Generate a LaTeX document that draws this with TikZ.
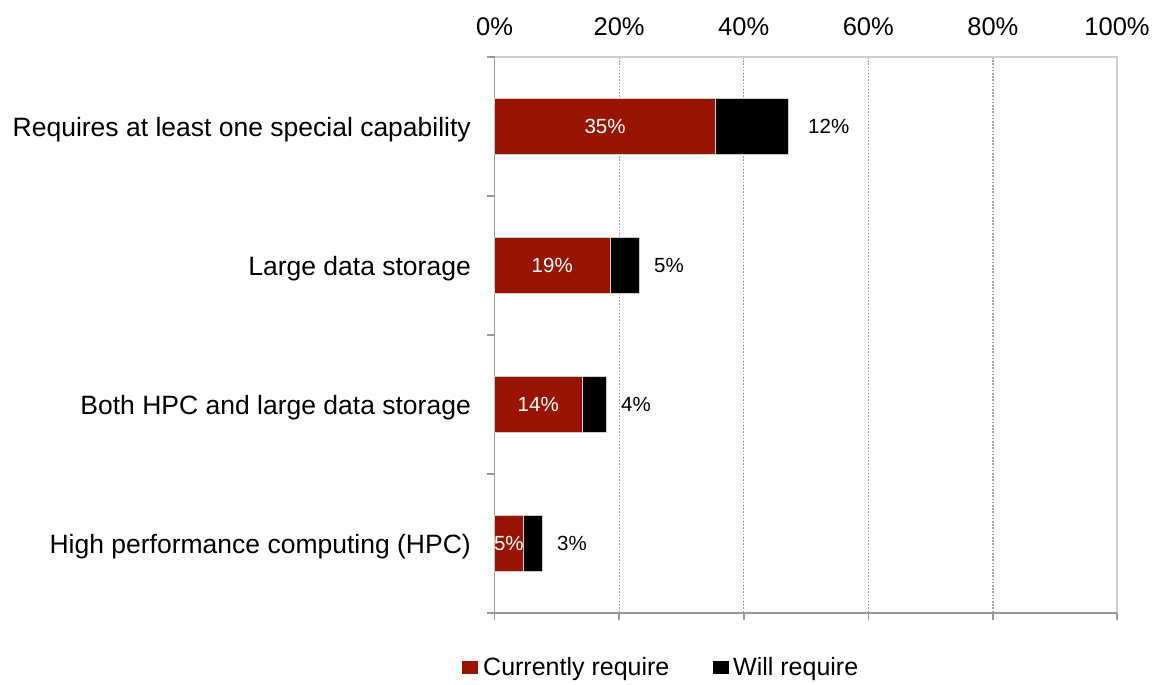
\documentclass[tikz,border=0pt]{standalone}
\usepackage{fontspec}
\setmainfont{Liberation Sans}
\definecolor{barred}{RGB}{150,20,0}
\definecolor{axisgray}{RGB}{152,152,152}
\definecolor{framegray}{RGB}{205,205,205}
\definecolor{gridgray}{RGB}{160,160,160}
\begin{document}
\begin{tikzpicture}[x=1pt,y=-1pt,
  catlabel/.style={anchor=base east, inner sep=0pt, font=\fontsize{26.5}{30}\selectfont},
  ticklabel/.style={anchor=base, inner sep=0pt, font=\fontsize{25.5}{30}\selectfont},
  inlabel/.style={inner sep=0pt, text=white, font=\fontsize{20.5}{24}\selectfont},
  outlabel/.style={anchor=west, inner sep=0pt, font=\fontsize{20.5}{24}\selectfont},
  legendlabel/.style={anchor=base west, inner sep=0pt, font=\fontsize{25}{30}\selectfont},
  curbar/.style={fill=barred, draw=framegray, line width=0.5pt},
  willbar/.style={fill=black, draw=framegray, line width=0.5pt},
  gridline/.style={gridgray, line width=1.2pt, dash pattern=on 1.6pt off 1.6pt},
  axisline/.style={axisgray, line width=1.6pt},
  frameline/.style={framegray, line width=1.6pt}]
\useasboundingbox (0,0) rectangle (1154,685);

% plot corners
\coordinate (tl) at (494.5,57);
\coordinate (tr) at (1117,57);
\coordinate (bl) at (494.5,613);
\coordinate (br) at (1117,613);
\coordinate (axl) at (487,613);

% dotted gridlines and percentage labels
\foreach \p/\x in {20/619.1,40/743.7,60/868.3,80/992.9}{
  \coordinate (gt\p) at (\x,57);
  \coordinate (gb\p) at (\x,613);
  \draw[gridline] (gt\p) -- (gb\p);
}
\foreach \p/\x in {0/494.5,20/619.1,40/743.7,60/868.3,80/992.9,100/1117}{
  \node[ticklabel] (tick\p) at (\x,36) {\p\%};
}

% frame and axes
\draw[frameline] (tl) -- (tr) -- (br);
\draw[axisline] (tl) -- (bl);
\draw[axisline, line width=2.2pt] (axl) -- (br);
\foreach \y [count=\i] in {57,196,335,474,613}{
  \coordinate (yt\i) at (487,\y);
  \coordinate (ya\i) at (494.5,\y);
  \draw[axisline] (yt\i) -- (ya\i);
}
\foreach \p/\x in {0/494.5,20/619.1,40/743.7,60/868.3,80/992.9,100/1117}{
  \coordinate (xa\p) at (\x,613);
  \coordinate (xt\p) at (\x,620);
  \draw[axisline] (xa\p) -- (xt\p);
}

% stacked bars: centre, end of current part, end of future part, labels, gap
\foreach \c/\r/\b/\cat/\va/\vb/\g [count=\i] in {
  126.5/715.7/788/{Requires at least one special capability}/35/12/20,
  265.5/610/639/{Large data storage}/19/5/15,
  404.5/582/606/{Both HPC and large data storage}/14/4/15,
  543.5/523.3/542/{High performance computing (HPC)}/5/3/15}{
  \coordinate (s\i) at (494.5,\c-28);
  \coordinate (m\i) at (\r,\c+28);
  \coordinate (n\i) at (\r,\c-28);
  \coordinate (e\i) at (\b,\c+28);
  \draw[curbar] (s\i) rectangle (m\i);
  \draw[willbar] (n\i) rectangle (e\i);
  \node[catlabel] (cat\i) at (471,\c+9.5) {\cat};
  \node[inlabel] (cur\i) at ({(494.5+\r)/2},\c) {\va\%};
  \node[outlabel] (will\i) at (\b+\g,\c) {\vb\%};
}

% legend
\node[curbar, draw=none, minimum width=16pt, minimum height=13pt, inner sep=0pt] (keycur) at (470,667.5) {};
\node[legendlabel] (keycurtext) at (483,675) {Currently require};
\node[willbar, draw=none, minimum width=16pt, minimum height=13pt, inner sep=0pt] (keywill) at (721,667.5) {};
\node[legendlabel] (keywilltext) at (733,675) {Will require};
\end{tikzpicture}
\end{document}
